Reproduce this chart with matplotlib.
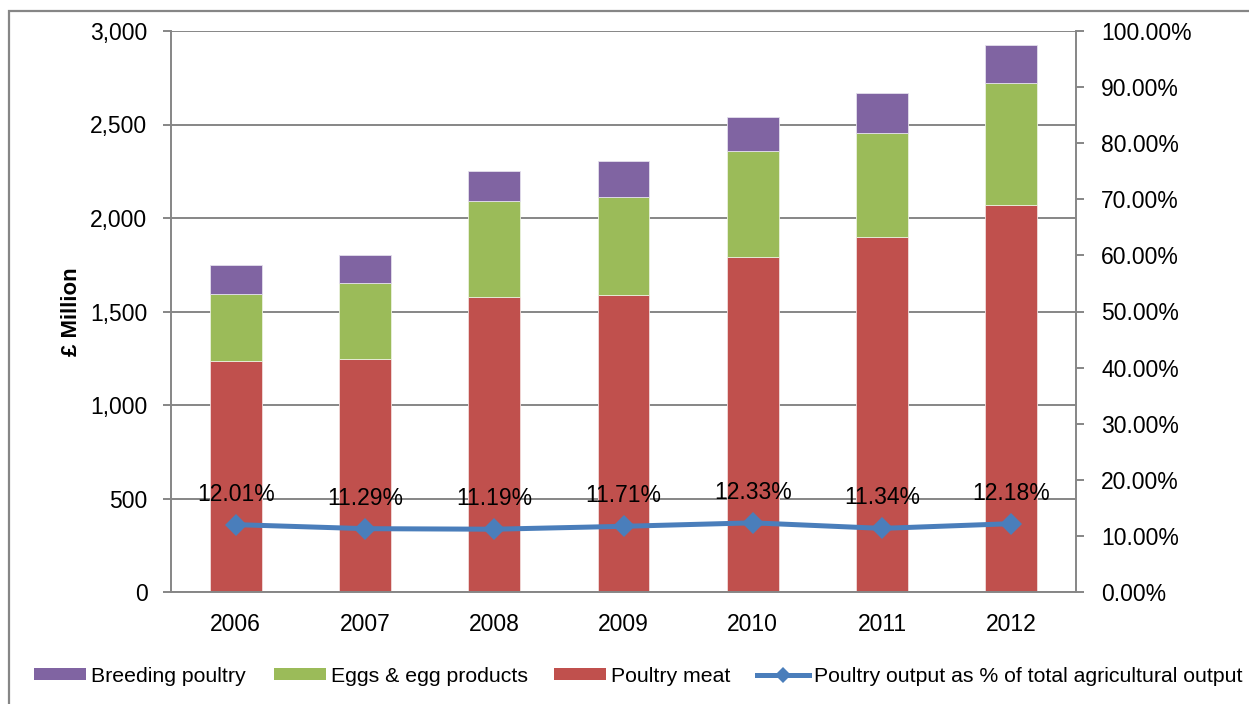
import matplotlib
matplotlib.use("Agg")
import matplotlib.pyplot as plt
from matplotlib.patches import Patch, Rectangle
from matplotlib.lines import Line2D
from matplotlib.ticker import FuncFormatter, MultipleLocator
import numpy as np

plt.rcParams['font.family'] = ['Liberation Sans', 'DejaVu Sans']

years = ["2006", "2007", "2008", "2009", "2010", "2011", "2012"]
poultry_meat = [1236, 1247, 1578, 1589, 1791, 1898, 2069]
eggs = [355, 406, 513, 523, 567, 556, 652]
breeding = [158, 149, 160, 193, 182, 214, 203]
share_pct = [12.01, 11.29, 11.19, 11.71, 12.33, 11.34, 12.18]

c_meat = "#C0504D"
c_eggs = "#9BBB59"
c_breed = "#8064A2"
c_line = "#4A7EBB"
c_grey = "#868686"

W, H = 1249, 704
fig = plt.figure(figsize=(W / 100, H / 100), dpi=100)

# outer chart frame (runs off the right and bottom edges)
fig.patches.append(Rectangle((9 / W, -0.05), 1.2, 1 - 11 / H + 0.05,
                             transform=fig.transFigure, fill=False,
                             edgecolor=c_grey, linewidth=1.6))

ax = fig.add_axes([171 / W, 1 - 592 / H, (1076 - 171) / W, (592 - 31) / H])
x = np.arange(len(years))
bw = 0.4
meat = np.array(poultry_meat)
egg = np.array(eggs)
brd = np.array(breeding)
ax.bar(x, meat, bw, color=c_meat, edgecolor="#F2DCDB", linewidth=0.6, zorder=2)
ax.bar(x, egg, bw, bottom=meat, color=c_eggs, edgecolor="#EBF1DE", linewidth=0.6, zorder=2)
ax.bar(x, brd, bw, bottom=meat + egg, color=c_breed, edgecolor="#E4DFEC", linewidth=0.6, zorder=2)

ax.set_xlim(-0.5, len(years) - 0.5)
ax.set_ylim(0, 3000)
ax.yaxis.set_major_locator(MultipleLocator(500))
ax.yaxis.set_major_formatter(FuncFormatter(lambda v, p: f"{v:,.0f}"))
ax.set_xticks(x)
ax.set_xticklabels(years)
ax.grid(axis="y", color=c_grey, linewidth=1.4)
ax.set_axisbelow(True)
for s in ["top", "right"]:
    ax.spines[s].set_visible(False)
for s in ["left", "bottom"]:
    ax.spines[s].set_color(c_grey)
    ax.spines[s].set_linewidth(1.4)
ax.tick_params(axis="y", length=6, width=1.4, color=c_grey, pad=11,
               labelsize=16.5, labelcolor="black")
ax.tick_params(axis="x", length=0, pad=15, labelsize=16.5)
ax.set_ylabel("£ Million", fontsize=16, fontweight="bold", labelpad=6)

ax2 = ax.twinx()
ax2.set_ylim(0, 100)
ax2.yaxis.set_major_locator(MultipleLocator(10))
ax2.yaxis.set_major_formatter(FuncFormatter(lambda v, p: f"{v:.2f}%"))
for s in ["top", "left", "bottom"]:
    ax2.spines[s].set_visible(False)
ax2.spines["right"].set_color(c_grey)
ax2.spines["right"].set_linewidth(1.4)
ax2.tick_params(axis="y", length=6, width=1.4, color=c_grey, pad=12,
                labelsize=16.5)
ax2.plot(x, share_pct, color=c_line, linewidth=3.6, marker="D", markersize=11,
         markeredgewidth=0, zorder=3)
for xi, v in zip(x, share_pct):
    ax2.annotate(f"{v:.2f}%", (xi, v), xytext=(0, 22), textcoords="offset points",
                 ha="center", va="center", fontsize=16.5)

# legend entries placed individually along the bottom
entries = [
    (Patch(facecolor=c_breed), "Breeding poultry", 34),
    (Patch(facecolor=c_eggs), "Eggs & egg products", 274),
    (Patch(facecolor=c_meat), "Poultry meat", 554),
    (Line2D([], [], color=c_line, linewidth=3.6, marker="D", markersize=8,
            markeredgewidth=0), "Poultry output as % of total agricultural output", 757),
]
for handle, label, px in entries:
    fig.legend(handles=[handle], labels=[label], loc="center left",
               bbox_to_anchor=(px / W, 1 - 676 / H), frameon=False,
               fontsize=15.3, borderpad=0, borderaxespad=0,
               handlelength=2.45, handleheight=0.45, handletextpad=0.25)

fig.savefig("out.png", dpi=100)
